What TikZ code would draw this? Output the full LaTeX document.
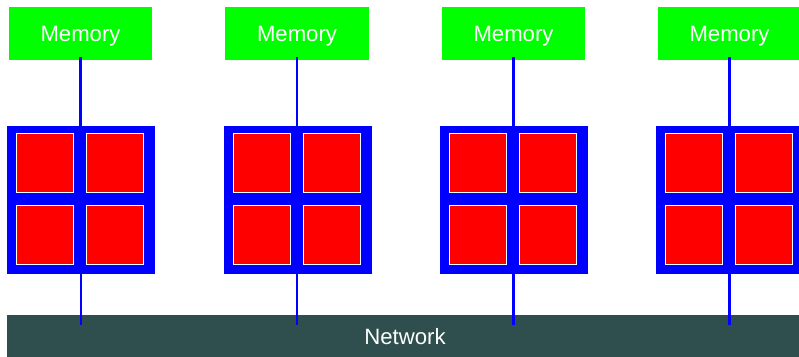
\documentclass[tikz,border=0pt]{standalone}
\usepackage{fontspec}
\setsansfont{Liberation Sans}
\usepackage{tikz}
\usetikzlibrary{positioning}
\definecolor{netgray}{RGB}{47,79,79}

\begin{document}
\begin{tikzpicture} [x=0.01in, y=-0.01in,
  memory/.style={fill=green, text=white, inner sep=0, text depth=0pt, minimum width=1.43in, minimum height=0.53in, font=\sffamily\fontsize{16}{19}\selectfont},
  chip/.style={fill=blue, inner sep=0, minimum size=1.47in},
  core/.style={fill=red, draw=white, line width=0.95pt, inner sep=0, minimum width=0.574in, minimum height=0.592in},
  bus/.style={draw=blue, line width=1.5pt}]
%\draw [help lines, step=10](0,0) grid (799,357);
\clip (0,0) rectangle (799,357);

\node [fill=netgray, text=white, inner sep=0, minimum width=7.96in, minimum height=0.44in, font=\sffamily\fontsize{16}{19}\selectfont] (net) at (405,337) {Network};

\node [memory] (mem1) at (80.5,33.5) {Memory};
\node [memory] (mem2) at (297,33.5) {Memory};
\node [memory] (mem3) at (513.5,33.5) {Memory};
\node [memory] (mem4) at (729.5,33.5) {Memory};

\node [chip] (cpu1) at (81,200) {};
\node [chip] (cpu2) at (298,200) {};
\node [chip] (cpu3) at (514,200) {};
\node [chip] (cpu4) at (730,200) {};

\node [core] at ([shift={(-36,-37)}]cpu1) {};
\node [core] at ([shift={(34,-37)}]cpu1) {};
\node [core] at ([shift={(-36,35)}]cpu1) {};
\node [core] at ([shift={(34,35)}]cpu1) {};
\node [core] at ([shift={(-36,-37)}]cpu2) {};
\node [core] at ([shift={(34,-37)}]cpu2) {};
\node [core] at ([shift={(-36,35)}]cpu2) {};
\node [core] at ([shift={(34,35)}]cpu2) {};
\node [core] at ([shift={(-36,-37)}]cpu3) {};
\node [core] at ([shift={(34,-37)}]cpu3) {};
\node [core] at ([shift={(-36,35)}]cpu3) {};
\node [core] at ([shift={(34,35)}]cpu3) {};
\node [core] at ([shift={(-36,-37)}]cpu4) {};
\node [core] at ([shift={(34,-37)}]cpu4) {};
\node [core] at ([shift={(-36,35)}]cpu4) {};
\node [core] at ([shift={(34,35)}]cpu4) {};

\coordinate (n1) at (81,325);
\coordinate (n2) at (297,325);
\coordinate (n3) at (513.5,325);
\coordinate (n4) at (729.5,325);

\draw [bus] ([yshift=2.2pt]mem1.south) -- (mem1 |- cpu1.north);
\draw [bus] ([yshift=2.2pt]mem2.south) -- (mem2 |- cpu2.north);
\draw [bus] ([yshift=2.2pt]mem3.south) -- (mem3 |- cpu3.north);
\draw [bus] ([yshift=2.2pt]mem4.south) -- (mem4 |- cpu4.north);
\draw [bus] (n1 |- cpu1.south) -- (n1);
\draw [bus] (n2 |- cpu2.south) -- (n2);
\draw [bus] (n3 |- cpu3.south) -- (n3);
\draw [bus] (n4 |- cpu4.south) -- (n4);
\end{tikzpicture}
\end{document}
